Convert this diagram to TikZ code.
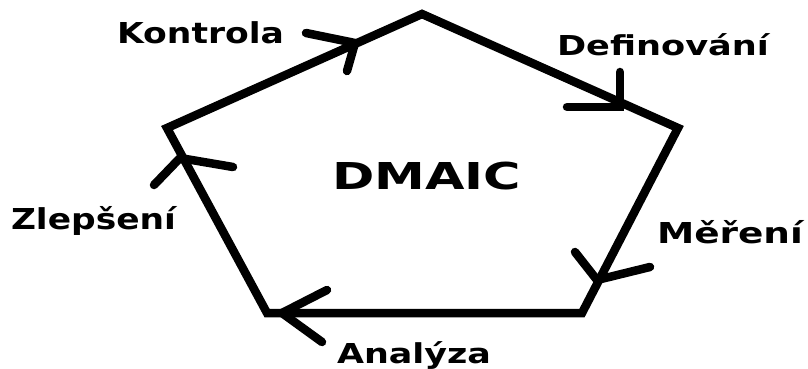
\documentclass[tikz,border=0pt]{standalone}
\usepackage{fontspec}
\setmainfont{DejaVu Sans}
\newsavebox\lblbox
\newlength\lblcap
\newcommand\fitlbl[3]{%
  \sbox\lblbox{#3}%
  \setlength\lblcap{\fontcharht\font`\H}%
  \pgfmathsetmacro\fitsx{#1/\the\wd\lblbox}%
  \pgfmathsetmacro\fitsy{#2/\the\lblcap}%
  \scalebox{\fitsx}[\fitsy]{\usebox\lblbox}}
\tikzset{
  edge/.style={line width=8.5pt, line join=miter},
  tipmark/.style={line width=8.5pt, line cap=round, line join=miter},
  lbl/.style={anchor=base west, inner sep=0pt, outer sep=0pt, font=\bfseries\fontsize{26}{30}\selectfont}
}
\begin{document}
\begin{tikzpicture}[x=1pt,y=-1pt]
\useasboundingbox (0,0) rectangle (808,369);
% pentagon vertices
\coordinate (T) at (422,14);
\coordinate (R) at (678,128);
\coordinate (BR) at (582,313);
\coordinate (BL) at (267,313);
\coordinate (L) at (167,128);
\draw[edge] (T) -- (R) -- (BR) -- (BL) -- (L) -- cycle;
% arrow marks
\coordinate (kt) at (355,43);  \coordinate (ka) at (306,33);  \coordinate (kb) at (347,71);
\coordinate (dt) at (620,107); \coordinate (da) at (620,72);  \coordinate (db) at (567,107);
\coordinate (mt) at (597,280); \coordinate (ma) at (575,252); \coordinate (mb) at (650,267);
\coordinate (at) at (282,313); \coordinate (aa) at (327,290); \coordinate (ab) at (322,342);
\coordinate (zt) at (180,158); \coordinate (za) at (154,185); \coordinate (zb) at (233,167);
\draw[tipmark] (ka) -- (kt) -- (kb);
\draw[tipmark] (da) -- (dt) -- (db);
\draw[tipmark] (ma) -- (mt) -- (mb);
\draw[tipmark] (aa) -- (at) -- (ab);
\draw[tipmark] (za) -- (zt) -- (zb);
% labels
\node[lbl] (kontrola) at (117,43) {\fitlbl{167}{21}{Kontrola}};
\node[lbl] (definovani) at (557,56) {\fitlbl{212}{20}{Definování}};
\node[lbl] (mereni) at (657,243) {\fitlbl{146}{21}{Měření}};
\node[lbl] (zlepseni) at (11,229) {\fitlbl{165}{21}{Zlepšení}};
\node[lbl] (analyza) at (337,363) {\fitlbl{154}{20}{Analýza}};
\node[lbl] (dmaic) at (332,189) {\fitlbl{189}{27}{DMAIC}};
\end{tikzpicture}
\end{document}
